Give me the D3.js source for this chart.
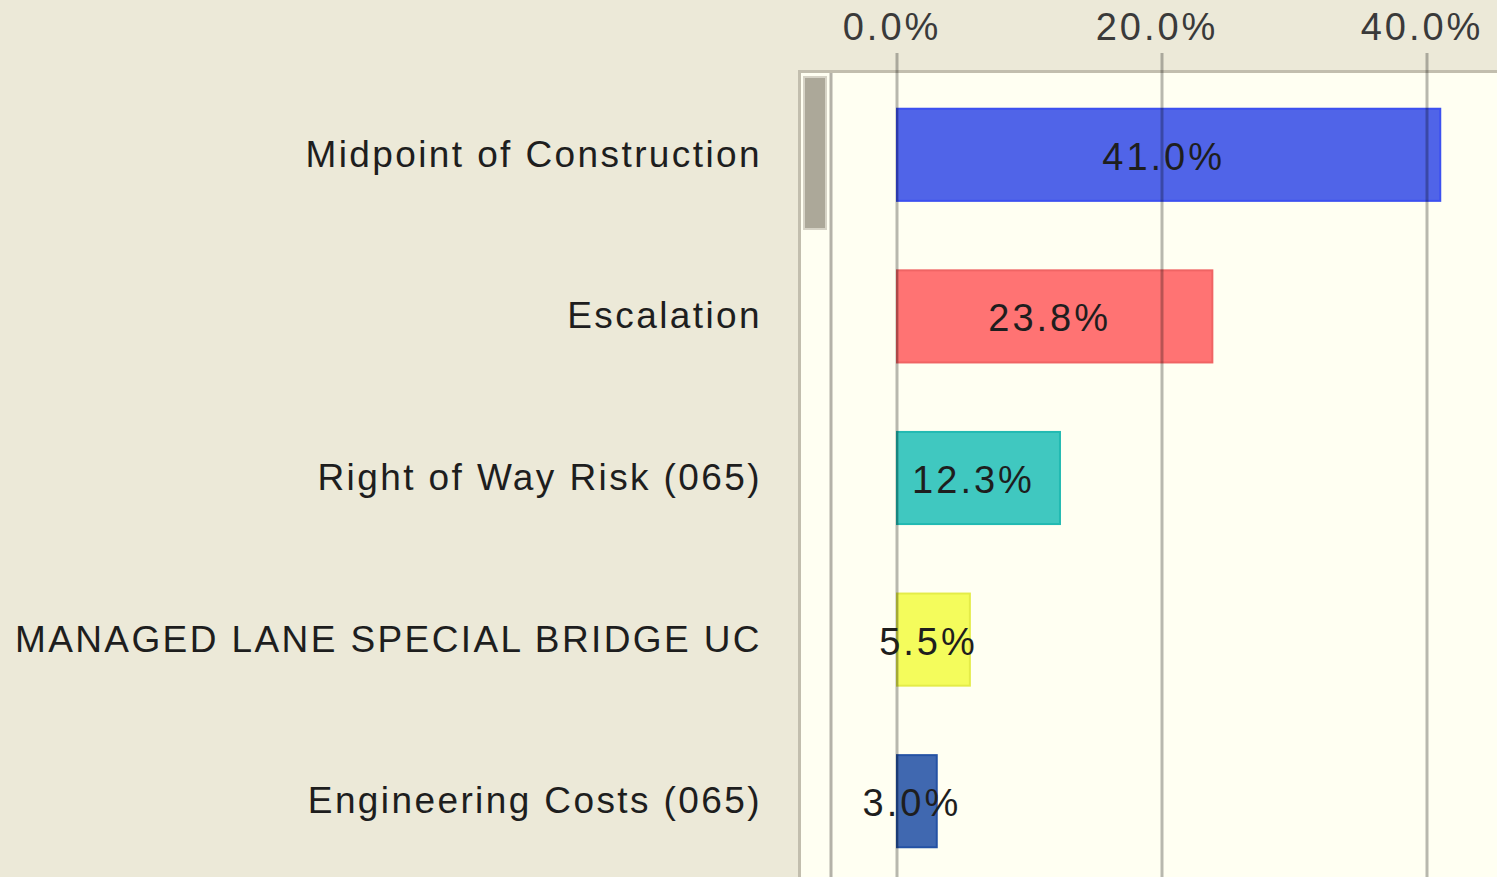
<!DOCTYPE html>
<html lang="en">
<head>
    <meta charset="UTF-8">
    <title>Contribution to Variance</title>
    <script src="https://d3js.org/d3.v7.min.js"></script>
    <style>
        body {
            margin: 0;
            background-color: #ece9d8;
            overflow: hidden;
        }

        .cat-label {
            font-family: 'Liberation Sans', Arial, sans-serif;
            font-size: 37px;
            letter-spacing: 2.4px;
            fill: #1e1e1e;
        }

        .num-label {
            font-family: 'Liberation Sans', Arial, sans-serif;
            font-size: 38px;
            letter-spacing: 3px;
            fill: #1e1e1e;
        }

        .tick-label {
            font-family: 'Liberation Sans', Arial, sans-serif;
            font-size: 38px;
            letter-spacing: 3px;
            fill: #3a3a3a;
        }
    </style>
</head>
<body>
    <div id="chart"></div>

    <script>
        const categories = [
            "Midpoint of Construction",
            "Escalation",
            "Right of Way Risk (065)",
            "MANAGED LANE SPECIAL BRIDGE UC",
            "Engineering Costs (065)"
        ];
        const values = [41.0, 23.8, 12.3, 5.5, 3.0];
        const tickValues = [0, 20, 40];

        const fills = ["#5064e8", "#ff7373", "#40c8c0", "#f4fc5c", "#4068b0"];
        const strokes = ["#3c50f0", "#f06464", "#22bab2", "#e4ec48", "#2452a4"];

        const width = 1497, height = 877;
        const plotLeft = 798, plotTop = 70;

        const svg = d3.select("#chart")
            .append("svg")
            .attr("width", width)
            .attr("height", height);

        const x = d3.scaleLinear()
            .domain([0, 40])
            .range([897, 1427]);

        const y = d3.scaleBand()
            .domain(categories)
            .range([74, 882])
            .paddingInner(0.43)
            .paddingOuter(0.215);

        // plot area
        svg.append("rect")
            .attr("x", plotLeft)
            .attr("y", plotTop)
            .attr("width", width - plotLeft)
            .attr("height", height - plotTop)
            .attr("fill", "#fffff2");

        svg.append("path")
            .attr("d", `M${plotLeft + 1.5},${height} V${plotTop + 1.5} H${width}`)
            .attr("fill", "none")
            .attr("stroke", "#c2beae")
            .attr("stroke-width", 3);

        // scrollbar strip
        svg.append("line")
            .attr("x1", 831).attr("x2", 831)
            .attr("y1", plotTop + 3).attr("y2", height)
            .attr("stroke", "#b4b2a8")
            .attr("stroke-width", 3);

        svg.append("rect")
            .attr("x", 804)
            .attr("y", 77)
            .attr("width", 22)
            .attr("height", 152)
            .attr("fill", "#aca899")
            .attr("stroke", "#d6d3c6")
            .attr("stroke-width", 2);

        // bars
        const data = categories.map((c, i) => ({category: c, value: values[i], i: i}));

        svg.selectAll(".bar")
            .data(data)
            .enter().append("rect")
            .attr("class", "bar")
            .attr("x", x(0))
            .attr("y", d => y(d.category))
            .attr("width", d => x(d.value) - x(0))
            .attr("height", y.bandwidth())
            .attr("fill", d => fills[d.i])
            .attr("stroke", d => strokes[d.i])
            .attr("stroke-width", 2);

        // gridlines + ticks (drawn over bars)
        svg.selectAll(".grid")
            .data(tickValues)
            .enter().append("line")
            .attr("class", "grid")
            .attr("x1", d => x(d)).attr("x2", d => x(d))
            .attr("y1", 53).attr("y2", height)
            .attr("stroke", "#000")
            .attr("stroke-opacity", 0.28)
            .attr("stroke-width", 3);

        svg.selectAll(".tick-label")
            .data(tickValues)
            .enter().append("text")
            .attr("class", "tick-label")
            .attr("x", d => x(d))
            .attr("dx", -5)
            .attr("y", 40)
            .attr("text-anchor", "middle")
            .text(d => d3.format(".1f")(d) + "%");

        // category labels
        svg.selectAll(".cat-label")
            .data(data)
            .enter().append("text")
            .attr("class", "cat-label")
            .attr("x", 762)
            .attr("y", d => y(d.category) + y.bandwidth() / 2 + 12)
            .attr("text-anchor", "end")
            .text(d => d.category);

        // value labels
        svg.selectAll(".num-label")
            .data(data)
            .enter().append("text")
            .attr("class", "num-label")
            .attr("x", d => (x(0) + x(d.value)) / 2)
            .attr("dx", -5)
            .attr("y", d => y(d.category) + y.bandwidth() / 2 + 15)
            .attr("text-anchor", "middle")
            .text(d => d3.format(".1f")(d.value) + "%");
    </script>
</body>
</html>
